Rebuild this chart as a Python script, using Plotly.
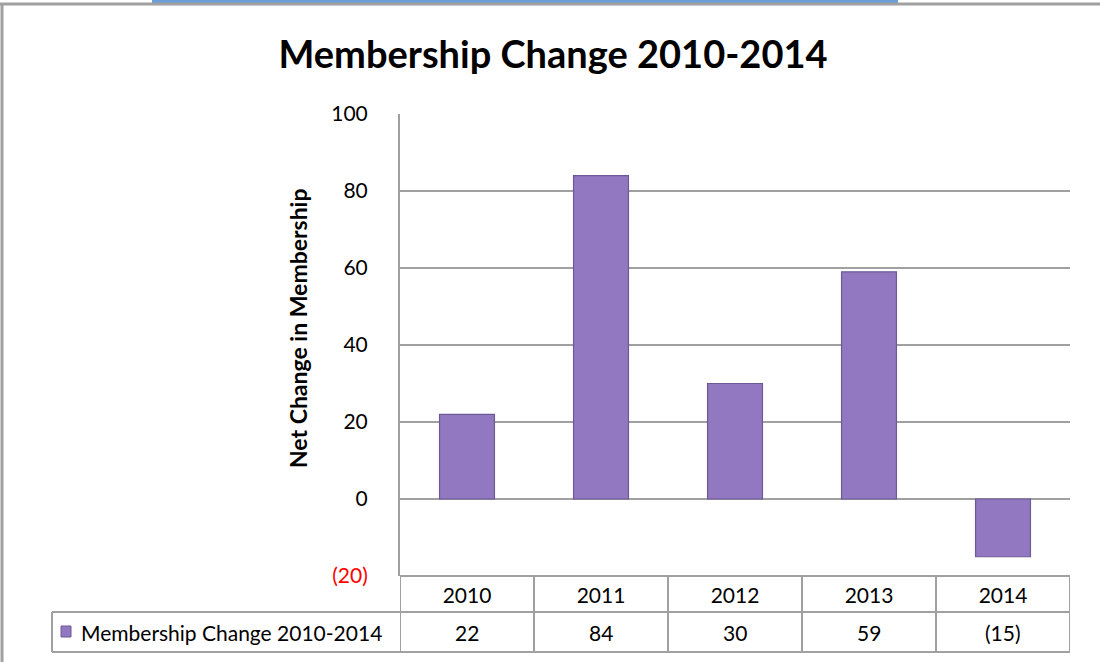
import plotly.graph_objects as go

# data
years = ['2010', '2011', '2012', '2013', '2014']
changes = [22, 84, 30, 59, -15]
change_labels = ['22', '84', '30', '59', '(15)']
series_name = 'Membership Change 2010-2014'
y_ticks = [-20, 0, 20, 40, 60, 80, 100]
y_ticktext = ['<span style="color:red">(20)</span>', '0', '20', '40', '60', '80', '100']

W, H = 1100, 662
L, R, T, B = 400, 30, 114, 86
PW, PH = W - L - R, H - T - B

FONT = 'Lato, "Open Sans", sans-serif'
GRID = '#a0a0a0'
BAR = '#9277c1'
BAR_EDGE = '#6c5a96'


def px_x(px):
    return (px - L) / PW


def px_y(py):
    return (H - B - py) / PH


fig = go.Figure()

fig.add_trace(go.Bar(
    x=years, y=changes, name=series_name, width=0.41,
    marker=dict(color=BAR, line=dict(color=BAR_EDGE, width=1.2)),
    showlegend=False
))

shapes = []
# data table under the plot: header row (years) and value row
row_top, row_mid, row_bot = px_y(576), px_y(612), px_y(652)
left_cell = px_x(52)
line = dict(color=GRID, width=2)
shapes.append(dict(type='line', xref='paper', yref='paper', x0=0, x1=1, y0=row_top, y1=row_top, line=line))
shapes.append(dict(type='line', xref='paper', yref='paper', x0=left_cell, x1=1, y0=row_mid, y1=row_mid, line=line))
shapes.append(dict(type='line', xref='paper', yref='paper', x0=left_cell, x1=1, y0=row_bot, y1=row_bot, line=line))
shapes.append(dict(type='line', xref='paper', yref='paper', x0=left_cell, x1=left_cell, y0=row_mid, y1=row_bot, line=line))
for i in range(len(years) + 1):
    shapes.append(dict(type='line', xref='x', yref='paper', x0=i - 0.5, x1=i - 0.5,
                       y0=row_bot, y1=row_top, line=line))

# legend key inside the table
shapes.append(dict(type='rect', xref='paper', yref='paper', x0=px_x(61), x1=px_x(71),
                   y0=px_y(637), y1=px_y(626), fillcolor=BAR, line=dict(color=BAR_EDGE, width=1)))

# bits of the surrounding frame at top / left
shapes.append(dict(type='rect', xref='paper', yref='paper', x0=px_x(152), x1=px_x(898),
                   y0=px_y(3), y1=px_y(0), fillcolor='#6a9fdc', line=dict(width=0)))
shapes.append(dict(type='line', xref='paper', yref='paper', x0=px_x(0), x1=px_x(1100),
                   y0=px_y(4), y1=px_y(4), line=dict(color='#a0a0a0', width=3)))
shapes.append(dict(type='line', xref='paper', yref='paper', x0=px_x(2), x1=px_x(2),
                   y0=px_y(4), y1=px_y(662), line=dict(color='#a0a0a0', width=3)))

annotations = []
row_font = dict(family=FONT, size=21, color='black')
row_y = (row_mid + row_bot) / 2
for i, lab in enumerate(change_labels):
    annotations.append(dict(x=i, y=row_y, xref='x', yref='paper', yanchor='middle',
                            text=lab, showarrow=False, font=row_font))
annotations.append(dict(x=px_x(79), y=row_y, xref='paper', yref='paper', yanchor='middle',
                        text=series_name, showarrow=False, xanchor='left', font=row_font))
annotations.append(dict(x=px_x(298), y=px_y(328), xref='paper', yref='paper',
                        xanchor='center', yanchor='middle',
                        text='<b>Net Change in Membership</b>', textangle=-90, showarrow=False,
                        font=dict(family=FONT, size=23, color='black')))

fig.update_layout(
    width=W, height=H,
    margin=dict(l=L, r=R, t=T, b=B),
    paper_bgcolor='white', plot_bgcolor='white',
    title=dict(text='<b>Membership Change 2010-2014</b>', xref='container', x=553 / W,
               xanchor='center', y=1 - 55 / H, yanchor='middle',
               font=dict(family=FONT, size=38, color='black')),
    xaxis=dict(type='category', range=[-0.5, 4.5], showgrid=False, showline=False, ticks='',
               tickfont=dict(family=FONT, size=21, color='black'), ticklabelstandoff=5),
    yaxis=dict(range=[-20, 100], tickvals=y_ticks, ticktext=y_ticktext,
               showgrid=True, gridcolor=GRID, gridwidth=2,
               zeroline=True, zerolinecolor=GRID, zerolinewidth=2,
               showline=True, linecolor=GRID, linewidth=2,
               tickfont=dict(family=FONT, size=21, color='black'), ticklabelstandoff=26),
    shapes=shapes, annotations=annotations,
)

fig.write_html('out.html', config={'displayModeBar': False},
               post_script="document.body.style.margin='0';")
